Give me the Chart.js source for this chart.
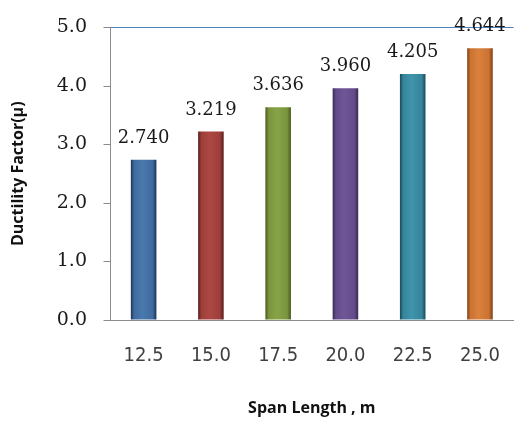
<!DOCTYPE html>
<html>
<head>
<meta charset="utf-8">
<script src="https://cdn.jsdelivr.net/npm/chart.js@4/dist/chart.umd.min.js"></script>
<style>
  html, body { margin: 0; padding: 0; background: #fff; overflow: hidden; }
  #wrap { width: 524px; height: 421px; }
</style>
</head>
<body>
<div id="wrap"><canvas id="chart" width="524" height="421"></canvas></div>
<script>
// Span lengths (m) and the ductility factor for each
const spans = ['12.5', '15.0', '17.5', '20.0', '22.5', '25.0'];
const ductility = [2.740, 3.219, 3.636, 3.960, 4.205, 4.644];
const yMin = 0;
const yMax = 5;
const yStep = 1;

// Per-bar shading: flat body with darker edges for a rounded look
const barLight = ['#4a79ae', '#ab4843', '#87a347', '#6f5698', '#4094ab', '#d9813d'];
const barMid   = ['#3f6b9f', '#9e3e3a', '#7a953c', '#634b8a', '#35859c', '#cc7232'];
const barEdge  = ['#1e3456', '#581d1b', '#485a21', '#382a51', '#194a57', '#7c4015'];

const BAR_FRACTION = 0.38;
const TICK_MARK = 7;

function barFill(context) {
  const i = context.dataIndex;
  const chart = context.chart;
  const xs = chart.scales && chart.scales.x;
  if (i === undefined || !xs || !chart.chartArea) return barMid[i || 0];
  const cx = xs.getPixelForValue(i);
  const w = (xs.width / spans.length) * BAR_FRACTION;
  const g = chart.ctx.createLinearGradient(cx - w / 2, 0, cx + w / 2, 0);
  g.addColorStop(0, barEdge[i]);
  g.addColorStop(0.13, barMid[i]);
  g.addColorStop(0.45, barLight[i]);
  g.addColorStop(0.85, barMid[i]);
  g.addColorStop(1, barEdge[i]);
  return g;
}

// Outside tick marks on the value axis and the rule at its maximum
const axisMarks = {
  id: 'axisMarks',
  afterDatasetsDraw(chart) {
    const ctx = chart.ctx;
    const ys = chart.scales.y;
    const area = chart.chartArea;
    const left = Math.round(area.left) + 0.5;
    ctx.save();
    ctx.lineWidth = 1;
    ctx.strokeStyle = '#8c8c8c';
    ctx.beginPath();
    for (let v = yMin; v <= yMax; v += yStep) {
      const py = Math.round(ys.getPixelForValue(v)) + 0.5;
      ctx.moveTo(left - TICK_MARK, py);
      ctx.lineTo(left, py);
    }
    ctx.stroke();
    const top = Math.round(ys.getPixelForValue(yMax)) + 0.5;
    ctx.strokeStyle = '#4f81bd';
    ctx.beginPath();
    ctx.moveTo(left, top);
    ctx.lineTo(area.right, top);
    ctx.stroke();
    ctx.restore();
  }
};

// Writes each bar's value above it
const valueLabels = {
  id: 'valueLabels',
  afterDatasetsDraw(chart) {
    const ctx = chart.ctx;
    const meta = chart.getDatasetMeta(0);
    ctx.save();
    ctx.font = '18px "DejaVu Serif", "Liberation Serif", serif';
    ctx.fillStyle = '#1a1a1a';
    ctx.textAlign = 'center';
    ctx.textBaseline = 'alphabetic';
    meta.data.forEach((el, i) => {
      ctx.fillText(ductility[i].toFixed(3), el.x, el.y - 17);
    });
    ctx.restore();
  }
};

new Chart(document.getElementById('chart'), {
  type: 'bar',
  data: {
    labels: spans,
    datasets: [{
      data: ductility,
      backgroundColor: barFill,
      borderWidth: 0,
      barPercentage: BAR_FRACTION,
      categoryPercentage: 1
    }]
  },
  options: {
    responsive: false,
    animation: false,
    events: [],
    layout: { padding: { top: 16.6, left: 0, right: 0, bottom: 0 } },
    plugins: {
      legend: { display: false },
      tooltip: { enabled: false }
    },
    scales: {
      x: {
        afterFit(scale) { scale.height = 101; },
        grid: { display: true, color: 'rgba(255,255,255,0)', drawTicks: false },
        border: { display: true, color: '#8c8c8c', width: 1 },
        ticks: {
          padding: 24,
          color: '#404040',
          font: { family: '"Liberation Sans Narrow", "DejaVu Sans Condensed", "Liberation Sans", sans-serif', size: 20 }
        },
        title: {
          display: true,
          text: 'Span Length , m',
          color: '#111',
          font: { family: '"Open Sans", sans-serif', size: 16, weight: 'bold' },
          padding: { top: 0, bottom: 3 }
        }
      },
      y: {
        min: yMin,
        max: yMax,
        afterFit(scale) { scale.width = 110; },
        grid: {
          color: 'rgba(255,255,255,0)',
          tickColor: 'rgba(255,255,255,0)',
          tickLength: TICK_MARK,
          lineWidth: 1
        },
        border: { display: true, color: '#8c8c8c', width: 1 },
        ticks: {
          stepSize: yStep,
          padding: 16,
          color: '#1a1a1a',
          font: { family: '"DejaVu Serif", "Liberation Serif", serif', size: 19 },
          callback: (v) => Number(v).toFixed(1)
        },
        title: {
          display: true,
          text: 'Ductility Factor(\u03bc)',
          color: '#111',
          font: { family: '"Open Sans", sans-serif', size: 16, weight: 'bold' },
          padding: { top: 9, bottom: 0 }
        }
      }
    }
  },
  plugins: [axisMarks, valueLabels]
});
</script>
</body>
</html>
